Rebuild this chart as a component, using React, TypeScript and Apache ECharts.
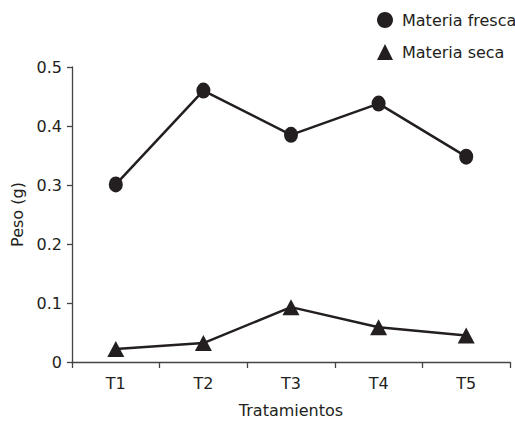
import React, { useEffect, useRef } from "react";
import * as echarts from "echarts";

const categories = ["T1", "T2", "T3", "T4", "T5"];
const materiaFresca = [0.301, 0.46, 0.385, 0.438, 0.348];
const materiaSeca = [0.022, 0.032, 0.093, 0.059, 0.045];
const seriesNames = ["Materia fresca", "Materia seca"];

const FONT = "DejaVu Sans";
const INK = "#231f20";
const ELLIPSE = "path://M0,1A1,1,0,1,1,2,1A1,1,0,1,1,0,1Z";

export default function App() {
  const ref = useRef<HTMLDivElement>(null);
  useEffect(() => {
    if (!ref.current) return;
    const chart = echarts.init(ref.current, undefined, { renderer: "svg" });
    chart.setOption({
      animation: false,
      backgroundColor: "#ffffff",
      textStyle: { fontFamily: FONT, color: INK },
      grid: { left: 72, right: 5, top: 67, bottom: 58, containLabel: false },
      legend: {
        orient: "vertical",
        left: 372,
        top: 7,
        itemWidth: 16,
        itemHeight: 16,
        itemGap: 16,
        textStyle: { fontFamily: FONT, fontSize: 16, color: INK, padding: [0, 0, 0, 4] },
        data: [
          { name: seriesNames[0], icon: "circle" },
          { name: seriesNames[1], icon: "triangle" },
        ],
      },
      xAxis: {
        type: "category",
        data: categories,
        boundaryGap: true,
        name: "Tratamientos",
        nameLocation: "middle",
        nameGap: 40,
        nameTextStyle: { fontFamily: FONT, fontSize: 16, color: INK },
        axisLine: { lineStyle: { color: "#444", width: 1.3 } },
        axisTick: { show: true, length: 6, alignWithLabel: false, lineStyle: { color: "#444", width: 1.3 } },
        axisLabel: { margin: 13, fontFamily: FONT, fontSize: 16, color: INK },
        splitLine: { show: false },
      },
      yAxis: {
        type: "value",
        min: 0,
        max: 0.5,
        interval: 0.1,
        name: "Peso (g)",
        nameLocation: "middle",
        nameRotate: 90,
        nameGap: 47,
        nameTextStyle: { fontFamily: FONT, fontSize: 16, color: INK },
        axisLine: { show: true, lineStyle: { color: "#444", width: 1.3 } },
        axisTick: { show: true, length: 5, lineStyle: { color: "#444", width: 1.3 } },
        axisLabel: {
          margin: 10,
          fontFamily: FONT,
          fontSize: 16,
          color: INK,
          formatter: (v: number) => (v === 0 ? "0" : v.toFixed(1)),
        },
        splitLine: { show: false },
      },
      series: [
        {
          name: seriesNames[0],
          type: "line",
          data: materiaFresca,
          symbol: ELLIPSE,
          symbolKeepAspect: false,
          symbolSize: [14, 16],
          itemStyle: { color: INK },
          lineStyle: { color: INK, width: 2.5 },
        },
        {
          name: seriesNames[1],
          type: "line",
          data: materiaSeca,
          symbol: "triangle",
          symbolSize: [17, 16],
          itemStyle: { color: INK },
          lineStyle: { color: INK, width: 2.5 },
        },
      ],
    });
    return () => chart.dispose();
  }, []);
  return (
    <div
      ref={ref}
      style={{ position: "fixed", left: 0, top: 0, width: 515, height: 423 }}
    />
  );
}
